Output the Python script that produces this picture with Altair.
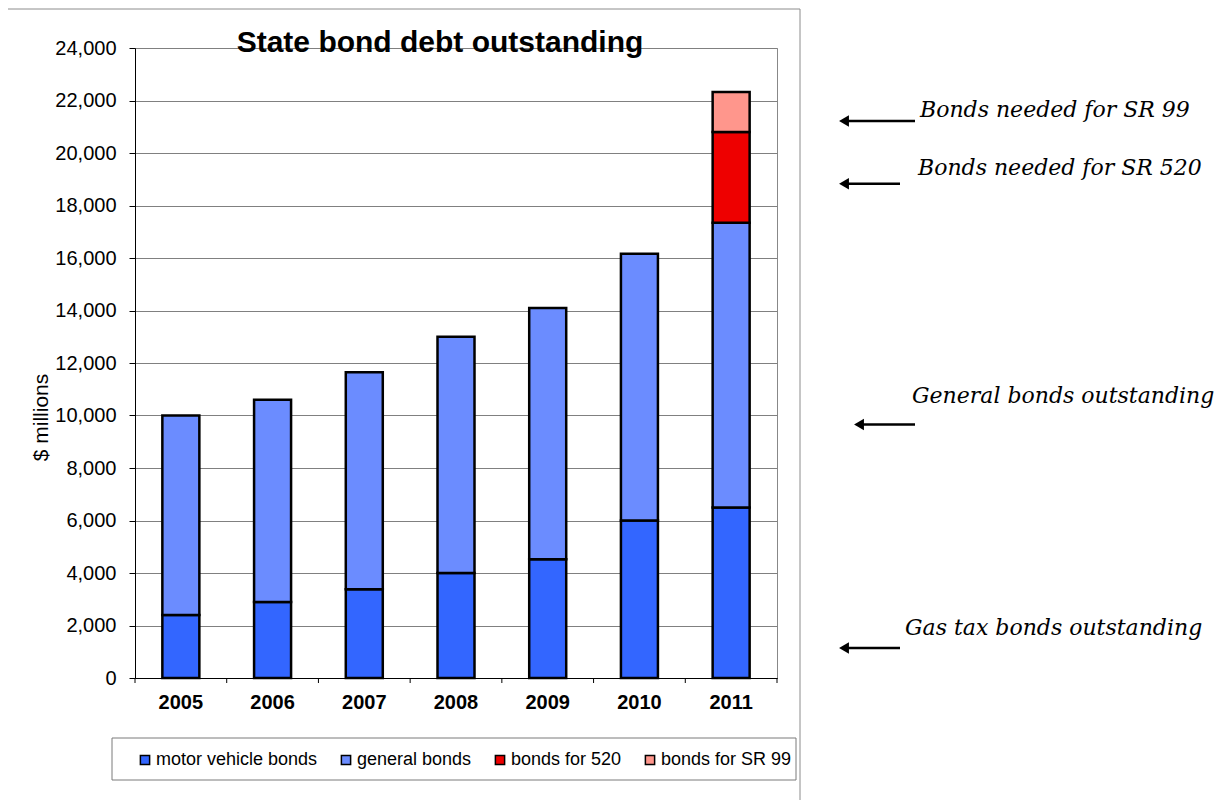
import altair as alt
import pandas as pd

# ---------------- data ----------------
years = ["2005", "2006", "2007", "2008", "2009", "2010", "2011"]
motor_vehicle = [2400, 2900, 3380, 4000, 4520, 6000, 6500]
general = [7600, 7700, 8270, 9000, 9580, 10160, 10840]
bonds_520 = [0, 0, 0, 0, 0, 0, 3460]
bonds_sr99 = [0, 0, 0, 0, 0, 0, 1520]
series_names = ["motor vehicle bonds", "general bonds", "bonds for 520", "bonds for SR 99"]
series_colors = ["#3366FF", "#6B8CFF", "#EE0000", "#FF968C"]
y_ticks = list(range(0, 24001, 2000))

# annotations: text, level of text ($ millions), level of arrow
ann_texts = ["Bonds needed for SR 99", "Bonds needed for SR 520",
             "General bonds outstanding", "Gas tax bonds outstanding"]
ann_text_levels = [21640, 19440, 10730, 1900]
ann_arrow_levels = [21220, 18830, 9660, 1140]

# ---------------- layout constants ----------------
W, H = 642, 630
FONT = "Liberation Sans"
SERIF = "DejaVu Serif"
ann_text_x = [785, 783, 777, 770]
ann_arrow_x = [(703, 780), (703, 765), (718, 780), (703, 765)]

rows = []
for i, y in enumerate(years):
    for k, (name, vals) in enumerate(zip(series_names, [motor_vehicle, general, bonds_520, bonds_sr99])):
        if vals[i] > 0:
            rows.append({"year": y, "series": name, "value": vals[i], "k": k})
df = pd.DataFrame(rows)

yscale = alt.Scale(domain=[0, 24000], nice=False, zero=True)
xscale = alt.Scale(paddingInner=0, paddingOuter=0)

x_axis = alt.Axis(title=None, labelFont=FONT, labelFontSize=20, labelFontWeight="bold",
                  labelColor="black", ticks=False, tickSize=0, labelPadding=14,
                  labelAngle=0, domainColor="black", domainWidth=1, grid=False)
y_axis = alt.Axis(values=y_ticks, labelExpr="format(datum.value, ',')", labelFont=FONT, labelFontSize=20,
                  labelColor="black", tickColor="black", tickSize=6, labelPadding=13,
                  domainColor="black", gridColor="#808080", gridWidth=1,
                  title="$ millions", titleFont=FONT, titleFontSize=21,
                  titleFontWeight="normal", titleColor="black",
                  titleX=-94, titleY=369, titleAlign="center", titleBaseline="middle")

frame = alt.Chart(pd.DataFrame({"a": [0]})).mark_rect(
    fillOpacity=0, stroke="#8c8c8c", strokeWidth=1
).encode(x=alt.value(-132), x2=alt.value(665), y=alt.value(-39), y2=alt.value(780))

legend_box = alt.Chart(pd.DataFrame({"a": [0]})).mark_rect(
    fillOpacity=0, stroke="#7a7a7a", strokeWidth=1
).encode(x=alt.value(-23), x2=alt.value(661), y=alt.value(690), y2=alt.value(732))

bars = alt.Chart(df).mark_bar(size=37, stroke="black", strokeWidth=2.5).encode(
    x=alt.X("year:N", scale=xscale, sort=years, axis=x_axis),
    y=alt.Y("value:Q", stack="zero", scale=yscale, axis=y_axis),
    color=alt.Color("series:N", scale=alt.Scale(domain=series_names, range=series_colors),
                    legend=alt.Legend(orient="none", legendX=1, legendY=703, direction="horizontal",
                                      columns=4, title=None, symbolType="square", symbolSize=85,
                                      symbolStrokeColor="black", symbolStrokeWidth=1.5,
                                      labelFont=FONT, labelFontSize=18, labelColor="black",
                                      labelLimit=400, columnPadding=19, labelOffset=2, padding=0)),
    order=alt.Order("k:Q", sort="ascending"),
)

tick_df = pd.DataFrame({"year": years})
xticks = alt.Chart(tick_df).mark_rule(color="black", strokeWidth=1).encode(
    x=alt.X("year:N", scale=xscale, sort=years, bandPosition=0, axis=x_axis),
    y=alt.value(H), y2=alt.value(H + 5),
)
xtick_end = alt.Chart(pd.DataFrame({"year": [years[-1]]})).mark_rule(color="black", strokeWidth=1).encode(
    x=alt.X("year:N", scale=xscale, sort=years, bandPosition=1, axis=x_axis),
    y=alt.value(H), y2=alt.value(H + 5),
)

title = alt.Chart(pd.DataFrame({"t": ["State bond debt outstanding"]})).mark_text(
    font=FONT, fontSize=30, fontWeight="bold", color="black", align="center", baseline="alphabetic"
).encode(x=alt.value(305), y=alt.value(4), text="t:N")

layers = [frame, legend_box, bars, xticks, xtick_end, title]
for i in range(len(ann_texts)):
    adf = pd.DataFrame({"label": [ann_texts[i]], "tl": [ann_text_levels[i]], "al": [ann_arrow_levels[i]]})
    x1, x2 = ann_arrow_x[i]
    txt = alt.Chart(adf).mark_text(
        font=SERIF, fontSize=22, fontStyle="italic", color="black", align="left", baseline="middle"
    ).encode(x=alt.value(ann_text_x[i]), y=alt.Y("tl:Q", scale=yscale, axis=y_axis), text="label:N")
    line = alt.Chart(adf).mark_rule(color="black", strokeWidth=2.5).encode(
        x=alt.value(x1 + 6), x2=alt.value(x2), y=alt.Y("al:Q", scale=yscale, axis=y_axis))
    head = alt.Chart(adf).mark_point(shape="triangle-left", filled=True, size=130, color="black",
                                     opacity=1).encode(
        x=alt.value(x1 + 6), y=alt.Y("al:Q", scale=yscale, axis=y_axis))
    layers += [txt, line, head]

chart = alt.layer(*layers).properties(
    width=W, height=H,
    background="white",
    autosize=alt.AutoSizeParams(type="none"),
    padding={"left": 127, "top": 40, "right": 441, "bottom": 122},
).configure_view(stroke="#888888", strokeWidth=1)

chart.save("out.html", embed_options={"renderer": "svg", "actions": False})
